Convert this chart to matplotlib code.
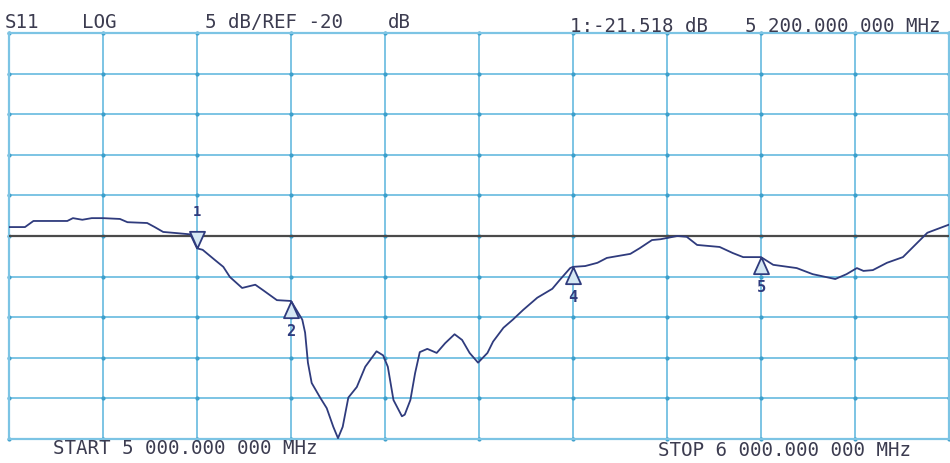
import numpy as np
import matplotlib
matplotlib.use('Agg')
import matplotlib.pyplot as plt

# S11 sweep, 5000-6000 MHz, log magnitude in dB
freq_mhz = [5000, 5017, 5026, 5062, 5068, 5078, 5088, 5100, 5118, 5126, 5147, 5155,
            5164, 5179, 5193, 5200, 5206, 5219, 5228, 5235, 5248, 5262, 5270, 5285,
            5300, 5312, 5315, 5318, 5322, 5331, 5338, 5345, 5350, 5355, 5361, 5370,
            5379, 5391, 5398, 5403, 5409, 5418, 5421, 5427, 5432, 5437, 5445, 5455,
            5464, 5474, 5482, 5490, 5499, 5509, 5515, 5526, 5536, 5547, 5562, 5578,
            5586, 5597, 5600, 5613, 5626, 5636, 5661, 5671, 5684, 5693, 5711, 5721,
            5732, 5756, 5770, 5781, 5800, 5813, 5838, 5855, 5879, 5891, 5902, 5909,
            5919, 5934, 5951, 5967, 5977, 5985, 6000]
s11_db = [-18.9, -18.9, -18.15, -18.15, -17.8, -18.0, -17.8, -17.8, -17.9, -18.3, -18.4, -18.9,
          -19.5, -19.65, -19.8, -21.518, -21.7, -22.95, -23.8, -25.05, -26.4, -26.0, -26.65, -27.9,
          -28.0, -30.3, -31.9, -35.6, -38.1, -39.9, -41.2, -43.5, -44.9, -43.5, -39.9, -38.6,
          -36.1, -34.2, -34.7, -36.1, -40.2, -42.2, -42.0, -40.2, -36.9, -34.3, -33.9, -34.4,
          -33.2, -32.1, -32.8, -34.4, -35.6, -34.4, -33.0, -31.3, -30.3, -29.1, -27.6, -26.5,
          -25.4, -23.95, -23.8, -23.7, -23.3, -22.7, -22.2, -21.5, -20.5, -20.4, -20.0, -20.1,
          -21.1, -21.35, -22.1, -22.6, -22.6, -23.55, -23.95, -24.7, -25.3, -24.7, -23.95, -24.3,
          -24.2, -23.3, -22.6, -20.75, -19.6, -19.25, -18.6]

# markers
marker_ids = ['1', '2', '4', '5']
marker_freq = [5200, 5300, 5600, 5800]
marker_db = [-21.518, -28.0, -23.8, -22.6]

ref_db = -20
db_per_div = 5
start_mhz = 5000
stop_mhz = 6000

W, H = 950, 463
fig = plt.figure(figsize=(W / 100, H / 100), dpi=100)
ax = fig.add_axes([9 / W, 1 - 439 / H, 940 / W, 406 / H])

top = ref_db + 5 * db_per_div
bottom = ref_db - 5 * db_per_div
ax.set_xlim(start_mhz, stop_mhz)
ax.set_ylim(bottom, top)
xt = np.linspace(start_mhz, stop_mhz, 11)
yt = np.linspace(bottom, top, 11)
ax.set_xticks(xt)
ax.set_yticks(yt)
ax.tick_params(length=0, labelbottom=False, labelleft=False)
grid_col = '#7cc4e4'
ax.grid(True, color=grid_col, lw=1.4)
for s in ax.spines.values():
    s.set_color(grid_col)
    s.set_linewidth(1.6)

# small dots where grid lines cross
gx, gy = np.meshgrid(xt, yt)
ax.scatter(gx.ravel(), gy.ravel(), s=4, color='#3d9fcb', zorder=2, clip_on=False)

ax.axhline(ref_db, color='#4a4a4a', lw=1.6, zorder=3)
trace_col = '#2f3b7d'
ax.plot(freq_mhz, s11_db, color=trace_col, lw=1.3, zorder=4)

# marker triangles: tip on the trace
tri_down = [(0, 0), (-0.45, 1), (0.45, 1), (0, 0)]
tri_up = [(0, 0), (-0.45, -1), (0.45, -1), (0, 0)]
for mid, f, v in zip(marker_ids, marker_freq, marker_db):
    if mid == '1':
        ax.plot(f, v, marker=tri_down, ms=24, mfc='#d6e8f4', mec=trace_col, mew=1.3, zorder=5)
        ax.annotate(mid, (f, v), xytext=(0, 26), textcoords='offset points',
                    ha='center', va='center', fontsize=10, color=trace_col,
                    family='DejaVu Sans Mono', fontweight='bold')
    else:
        ax.plot(f, v, marker=tri_up, ms=24, mfc='#d6e8f4', mec=trace_col, mew=1.3, zorder=5)
        ax.annotate(mid, (f, v), xytext=(0, -22), textcoords='offset points',
                    ha='center', va='center', fontsize=11, color=trace_col,
                    family='DejaVu Sans Mono', fontweight='bold')

txt_col = '#3c3c50'
fs = 13.8


def put(s, x, y):
    fig.text(x / W, 1 - y / H, s, ha='left', va='center', fontsize=fs,
             color=txt_col, family='DejaVu Sans Mono')


put('S11', 5, 23)
put('LOG', 82, 23)
put(f'{db_per_div} dB/REF {ref_db}', 205, 23)
put('dB', 388, 23)
put(f'1:{marker_db[0]:.3f} dB', 570, 27)
put('5 200.000 000 MHz', 745, 27)
put('START 5 000.000 000 MHz', 53, 449)
put('STOP 6 000.000 000 MHz', 658, 451)

fig.savefig('out.png', dpi=100, facecolor='white')
